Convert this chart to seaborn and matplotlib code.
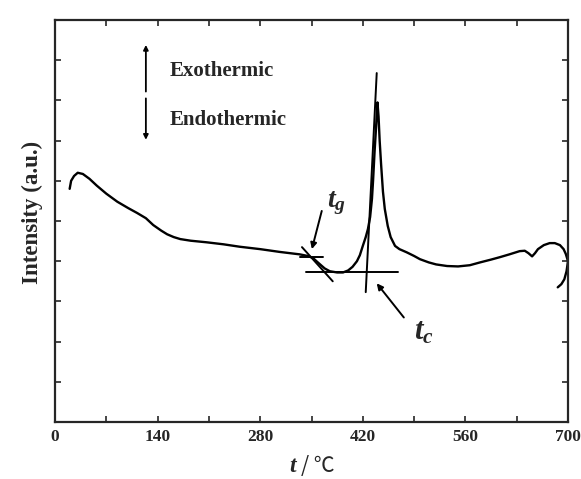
import numpy as np
import pandas as pd
import matplotlib
matplotlib.use("Agg")
import matplotlib.pyplot as plt
import seaborn as sns

# ---- data ----
temp = [20, 22, 26, 31, 38, 47, 57, 70, 85, 100, 112, 124, 134, 145, 153, 162, 171, 185,
        207, 230, 252, 280, 307, 325, 334, 345, 352, 358, 363, 368, 375, 385, 393, 400,
        406, 412, 416, 420, 424, 427, 430, 432.5, 434, 436, 438, 440, 441.5, 443, 445,
        447.5, 450, 454, 458, 464, 470, 480, 490, 498, 510, 520, 535, 550, 566, 580, 595,
        607, 620, 634, 641, 646, 651, 655, 659, 667, 675, 682, 689, 694, 697, 700, 698,
        695, 691, 686]
intensity = [5.8, 6.0, 6.12, 6.2, 6.17, 6.05, 5.88, 5.68, 5.48, 5.32, 5.2, 5.07, 4.9, 4.76,
             4.67, 4.6, 4.55, 4.51, 4.47, 4.42, 4.36, 4.3, 4.23, 4.19, 4.17, 4.13, 4.08,
             3.98, 3.9, 3.82, 3.75, 3.72, 3.72, 3.77, 3.86, 4.0, 4.15, 4.38, 4.6, 4.8, 5.1,
             5.55, 6.0, 6.7, 7.3, 7.95, 7.6, 7.0, 6.4, 5.73, 5.3, 4.88, 4.6, 4.38, 4.3,
             4.22, 4.13, 4.05, 3.97, 3.92, 3.88, 3.87, 3.9, 3.97, 4.04, 4.1, 4.17, 4.25,
             4.26, 4.2, 4.12, 4.2, 4.3, 4.4, 4.45, 4.45, 4.4, 4.3, 4.18, 4.0, 3.75, 3.55,
             3.43, 3.35]

# construction lines (tangents used to determine t_g and t_c)
baseline_t = [342, 468]
baseline_y = [3.73, 3.73]
tg_flat_t = [334, 366]
tg_flat_y = [4.1, 4.1]
tg_slope_t = [337, 379]
tg_slope_y = [4.35, 3.5]
tc_line_t = [439, 424]
tc_line_y = [8.68, 3.23]

x_major = [0, 140, 280, 420, 560, 700]

df = pd.DataFrame({"t": temp, "I": intensity})

sns.set_style("ticks")
plt.rcParams["font.family"] = ["Liberation Serif", "Noto Sans CJK SC", "DejaVu Sans"]
plt.rcParams["mathtext.fontset"] = "custom"
plt.rcParams["mathtext.it"] = "Liberation Serif:bold:italic"
plt.rcParams["mathtext.rm"] = "Liberation Serif:bold"
plt.rcParams["mathtext.bf"] = "Liberation Serif:bold"

W, H = 581, 479
fig = plt.figure(figsize=(W / 100, H / 100), dpi=100)
ax = fig.add_axes([55 / W, (H - 422) / H, (568 - 55) / W, (422 - 20) / H])

sns.lineplot(data=df, x="t", y="I", sort=False, estimator=None, color="black",
             linewidth=1.7, ax=ax)

for xs, ys in [(baseline_t, baseline_y), (tg_flat_t, tg_flat_y),
               (tg_slope_t, tg_slope_y), (tc_line_t, tc_line_y)]:
    sns.lineplot(x=xs, y=ys, sort=False, estimator=None, color="black",
                 linewidth=1.4, ax=ax)

ax.set_xlim(0, 700)
ax.set_ylim(0, 10)
ax.set_xticks(x_major)
ax.set_xticks(np.arange(0, 701, 70), minor=True)
ax.set_xticklabels([str(v) for v in x_major], fontsize=12.5, fontweight="bold")
ax.set_yticks(np.arange(1, 10, 1))
ax.set_yticklabels([])
ax.tick_params(which="both", direction="in", length=4, width=1.2,
               top=True, right=True, pad=5)
for s in ax.spines.values():
    s.set_linewidth(1.6)
    s.set_visible(True)
ax.set_xlabel("")
ax.set_ylabel("")

# axis titles
fig.text(32 / W, 1 - 212 / H, "Intensity (a.u.)", fontsize=16.5, fontweight="bold",
         rotation=90, ha="center", va="center")
fig.text(298 / W, 1 - 466 / H, "$t$", fontsize=17, ha="right", va="center")
fig.text(301 / W, 1 - 466 / H, "/ ℃", fontsize=15, ha="left", va="center",
         family=["Noto Sans CJK SC", "DejaVu Sans"])

# exo / endo indicator
arrow_kw = dict(arrowstyle="-|>", color="black", lw=1.3, mutation_scale=7,
                shrinkA=0, shrinkB=0)
ax.annotate("", xy=(124, 9.38), xytext=(124, 8.22), arrowprops=arrow_kw)
ax.annotate("", xy=(124, 7.02), xytext=(124, 8.05), arrowprops=arrow_kw)
ax.text(157, 8.72, "Exothermic", fontsize=15, fontweight="bold", va="center")
ax.text(157, 7.52, "Endothermic", fontsize=15, fontweight="bold", va="center")

# t_g and t_c labels
ax.annotate("", xy=(350.5, 4.3), xytext=(364, 5.25),
            arrowprops=dict(arrowstyle="-|>", color="black", lw=1.4,
                            mutation_scale=9, shrinkA=0, shrinkB=0))
ax.text(371, 5.35, "$t_g$", fontsize=20, va="baseline")
ax.annotate("", xy=(439, 3.45), xytext=(476, 2.6),
            arrowprops=dict(arrowstyle="-|>", color="black", lw=1.4,
                            mutation_scale=9, shrinkA=0, shrinkB=0))
ax.text(490, 2.05, "$t_c$", fontsize=22, va="baseline")

fig.savefig("out.png", dpi=100)
